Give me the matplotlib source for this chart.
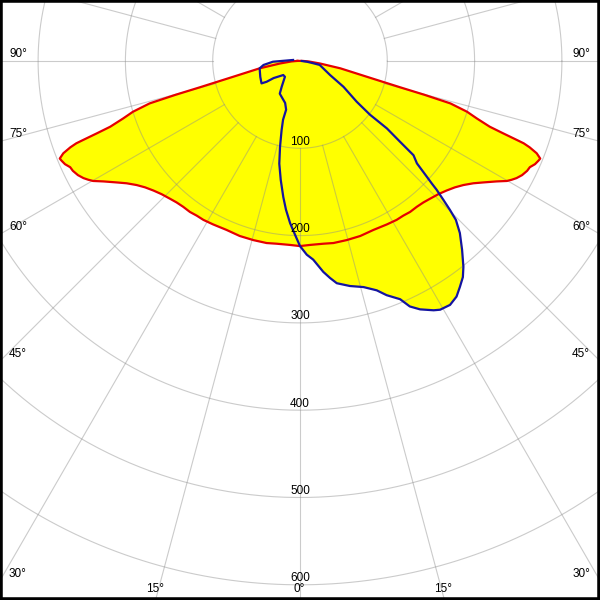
import numpy as np
import matplotlib
matplotlib.use("Agg")
import matplotlib.pyplot as plt

# ---- data (angle from nadir in degrees, luminous intensity in cd) ----
# C0-C180 plane (red, symmetric): one half, mirrored when drawn
red_angles = [0, 3.1, 7.3, 10.4, 14.6, 19.0, 23.5, 28.0, 31.3, 33.7,
              36.1, 38.7, 41.1, 43.4, 46.1, 48.5, 50.8, 52.8, 54.8, 56.5,
              58.5, 59.9, 60.7, 61.6, 62.8, 64.2, 65.2, 66.3, 67.3, 67.9,
              68.7, 69.4, 69.8, 70.0, 70.4, 70.9, 72.0, 73.1, 74.25, 74.8,
              75.3, 76.5, 79.7, 82.9, 87, 92]
red_cd = [212, 211, 211, 212, 212, 212, 211, 212, 213, 213,
          214, 214, 215, 217, 220, 224, 229, 235, 243, 252,
          264, 274, 278, 282, 286, 289, 290, 294, 296, 297,
          291, 281, 273, 264, 247, 230, 213, 200, 179, 148,
          118, 83, 47, 23, 10, 3]

# C90-C270 plane (blue, asymmetric); negative angles = left side
blue_angles = [-98.5, -88.5, -83.8, -79.7, -68.2, -59.8, -58.1, -57.1, -50, -43.7,
               -35.5, -31.8, -19.5, -15.9, -16.1, -14.9, -13.1, -11.4, -9.2, -7.0,
               -5.4, -3.5, -1.65, 0, 2.0, 3.8, 6.3, 7.9, 9.4, 12.5,
               15.7, 18.5, 20.3, 22.8, 24.1, 25.8, 28.2, 29.4, 31.6, 33.6,
               35.3, 37.0, 38.45, 40.65, 42.9, 44.45, 45.2, 45.9, 46.7, 47.1,
               47.6, 48.8, 50.3, 51.1, 52.2, 52.5, 54.3, 59.3, 65, 78.7,
               80.2, 84, 90]
blue_cd = [8, 31, 42, 47, 49, 51, 45, 36, 25, 25,
           36, 44, 51, 58, 70, 82, 101, 120, 138, 157,
           171, 186, 199, 212, 222, 228, 243, 251, 258, 264,
           269, 277, 286, 296, 308, 316, 324, 327, 328, 324,
           317, 310, 301, 285, 269, 255, 242, 229, 215, 206,
           197, 178, 169, 147, 126, 101, 80, 58, 38, 23,
           16, 8, 2]

ring_values = [100, 200, 300, 400, 500, 600]
spoke_step = 15
side_label_angles = [90, 75, 60, 45, 30]
bottom_label_angles = [15, 0]


def to_xy(ang, cd):
    a = np.radians(np.asarray(ang, dtype=float))
    r = np.asarray(cd, dtype=float)
    return r * np.sin(a), -r * np.cos(a)


ra = np.array(red_angles)
rc = np.array(red_cd)
red_full_a = np.concatenate([-ra[::-1], ra[1:]])
red_full_c = np.concatenate([rc[::-1], rc[1:]])
rx, ry = to_xy(red_full_a, red_full_c)
bx, by = to_xy(blue_angles, blue_cd)

fig = plt.figure(figsize=(6, 6), dpi=100)
ax = fig.add_axes([0, 0, 1, 1])
px_per_cd = 0.873
xmax = 300 / px_per_cd
ytop = 61 / px_per_cd
ybot = -(600 - 61) / px_per_cd
ax.set_xlim(-xmax, xmax)
ax.set_ylim(ybot, ytop)
ax.set_aspect("equal", adjustable="box")
ax.set_xticks([])
ax.set_yticks([])
for sp in ax.spines.values():
    sp.set_linewidth(4)
    sp.set_color("black")

yellow = "#ffff00"
ax.fill(rx, ry, color=yellow, lw=0, zorder=1)
ax.fill(bx, by, color=yellow, lw=0, zorder=1)

# grid
gcol = (0.55, 0.55, 0.55)
t = np.linspace(0, 2 * np.pi, 721)
for rv in ring_values:
    ax.plot(rv * np.cos(t), rv * np.sin(t), color=gcol, alpha=0.45, lw=0.8, zorder=2)
for a in range(0, 360, spoke_step):
    xx, yy = to_xy([a, a], [ring_values[0], 1000])
    ax.plot(xx, yy, color=gcol, alpha=0.45, lw=0.8, zorder=2)

# curves
ax.plot(np.append(rx, rx[0]), np.append(ry, ry[0]), color="#e60000", lw=1.6,
        zorder=3, solid_joinstyle="round")
ax.plot(bx, by, color="#1414a0", lw=1.6, zorder=4, solid_joinstyle="round")

font = dict(family=["Liberation Sans", "DejaVu Sans"], size=8.5, color="black", zorder=5)

# ring labels
for rv in ring_values:
    ax.annotate(f"{rv}", xy=(0, -rv), xytext=(0, 0.5), textcoords="offset pixels",
                ha="center", va="bottom", **font)

# side angle labels
for a in side_label_angles:
    yhit = -xmax / np.tan(np.radians(a)) if a != 90 else 0.0
    ax.annotate(f"{a}°", xy=(-xmax, yhit), xytext=(9, 1), textcoords="offset pixels",
                ha="left", va="bottom", **font)
    ax.annotate(f"{a}°", xy=(xmax, yhit), xytext=(-10, 1), textcoords="offset pixels",
                ha="right", va="bottom", **font)

# bottom angle labels
for a in bottom_label_angles:
    xhit = -ybot * np.tan(np.radians(a))
    for sgn in ([-1, 1] if a != 0 else [1]):
        ax.annotate(f"{a}°", xy=(sgn * xhit, ybot), xytext=(-1, 5), textcoords="offset pixels",
                    ha="center", va="bottom", **font)

fig.savefig("out.png", dpi=100)
